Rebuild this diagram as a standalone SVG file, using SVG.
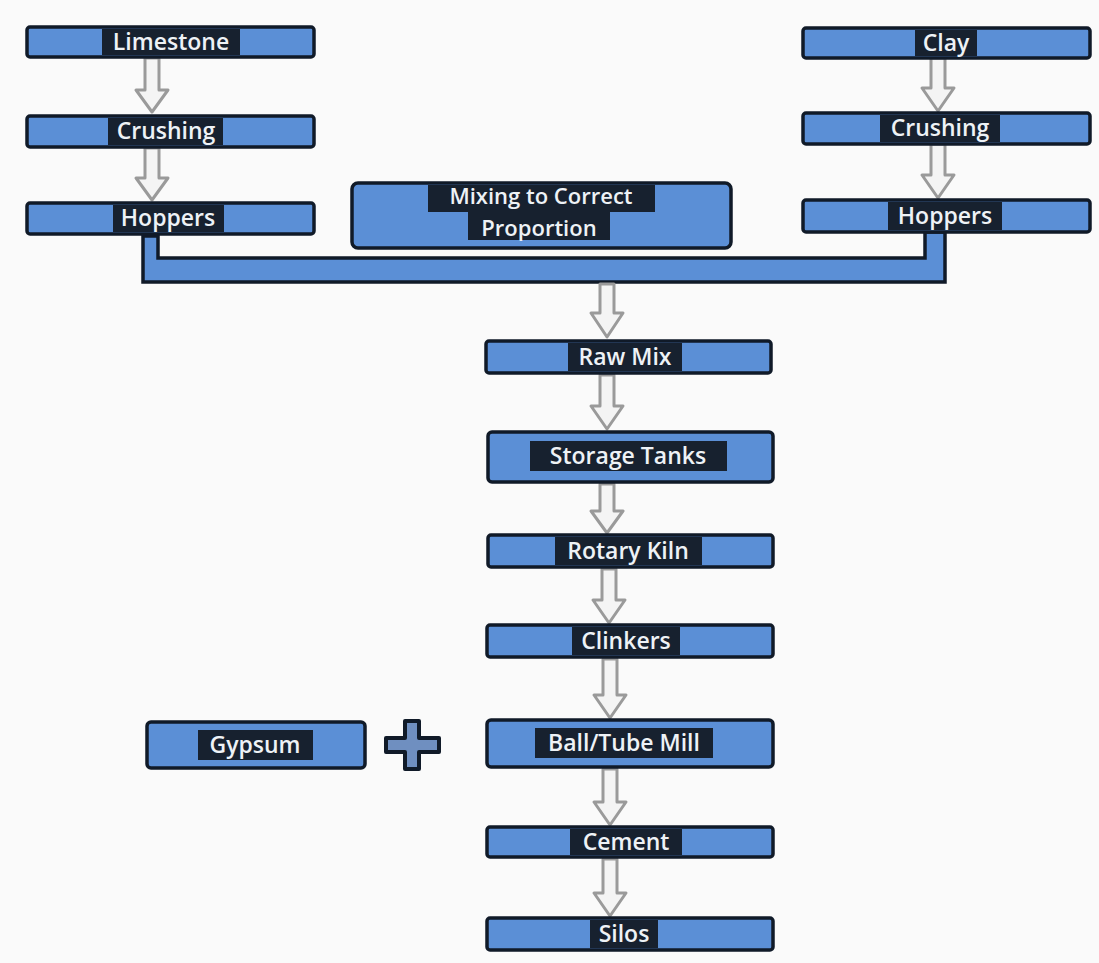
<svg xmlns="http://www.w3.org/2000/svg" width="1099" height="963" viewBox="0 0 1099 963">
<defs>
<style>
.box{fill:#5b8fd6;stroke:#101a28;stroke-width:3.5}
.hl{fill:#17212f}
.t{font-family:"Open Sans","DejaVu Sans",sans-serif;font-size:23px;font-weight:600;fill:#eef2f6;text-anchor:middle}
.t2{font-size:22px}
.arr{fill:#f4f4f4;stroke:#9a9a9a;stroke-width:3;stroke-linejoin:round}
</style>
</defs>
<rect width="1099" height="963" fill="#fafafa"/>

<g id="connectors">
<path class="arr" d="M145,58 V90 H136 L152,112 L168,90 H159 V58 Z"/>
<path class="arr" d="M145,148 V178 H136 L152,200 L168,178 H159 V148 Z"/>
<path class="arr" d="M931,58 V88 H922 L938,111 L954,88 H945 V58 Z"/>
<path class="arr" d="M931,144 V175 H922 L938,198 L954,175 H945 V144 Z"/>
<g id="collector">
<path d="M143,236 V282 H945 V232 H925 V258 H158 V236 Z" fill="#5b8fd6" stroke="#101a28" stroke-width="3.5"/>
</g>
<path class="arr" d="M600,284 V313 H591 L607,337 L623,313 H614 V284 Z"/>
<path class="arr" d="M600,375 V406 H591 L607,429 L623,406 H614 V375 Z"/>
<path class="arr" d="M600,484 V511 H591 L607,533 L623,511 H614 V484 Z"/>
<path class="arr" d="M602,569 V600 H593 L609,623 L625,600 H616 V569 Z"/>
<path class="arr" d="M603,659 V695 H594 L610,718 L626,695 H617 V659 Z"/>
<path class="arr" d="M603,769 V802 H594 L610,825 L626,802 H617 V769 Z"/>
<path class="arr" d="M603,859 V893 H594 L610,916 L626,893 H617 V859 Z"/>
</g>

<g id="limestone">
<rect class="box" x="27" y="27" width="287" height="30" rx="3"/>
<rect class="hl" x="102" y="29" width="138" height="26"/>
<text class="t" x="171" y="50">Limestone</text>
</g>
<g id="crushing-left">
<rect class="box" x="27" y="116" width="287" height="31" rx="3"/>
<rect class="hl" x="108" y="118" width="115" height="27"/>
<text class="t" x="166" y="139">Crushing</text>
</g>
<g id="hoppers-left">
<rect class="box" x="27" y="203" width="287" height="31" rx="3"/>
<rect class="hl" x="113" y="205" width="111" height="27"/>
<text class="t" x="168" y="226">Hoppers</text>
</g>
<g id="clay">
<rect class="box" x="803" y="28" width="287" height="30" rx="3"/>
<rect class="hl" x="915" y="30" width="62" height="26"/>
<text class="t" x="946" y="51">Clay</text>
</g>
<g id="crushing-right">
<rect class="box" x="803" y="113" width="287" height="31" rx="3"/>
<rect class="hl" x="880" y="115" width="120" height="27"/>
<text class="t" x="940" y="136">Crushing</text>
</g>
<g id="hoppers-right">
<rect class="box" x="803" y="200" width="287" height="32" rx="3"/>
<rect class="hl" x="888" y="202" width="114" height="28"/>
<text class="t" x="945" y="224">Hoppers</text>
</g>
<g id="mixing">
<rect class="box" x="352" y="183" width="379" height="65" rx="6"/>
<rect class="hl" x="428" y="185" width="227" height="27"/>
<rect class="hl" x="468" y="212" width="142" height="28"/>
<text class="t t2" x="541" y="204">Mixing to Correct</text>
<text class="t t2" x="539" y="236">Proportion</text>
</g>
<g id="raw-mix">
<rect class="box" x="486" y="341" width="285" height="32" rx="3"/>
<rect class="hl" x="568" y="343" width="114" height="28"/>
<text class="t" x="625" y="365">Raw Mix</text>
</g>
<g id="storage-tanks">
<rect class="box" x="488" y="432" width="285" height="50" rx="4"/>
<rect class="hl" x="530" y="441" width="197" height="30"/>
<text class="t" x="628" y="464">Storage Tanks</text>
</g>
<g id="rotary-kiln">
<rect class="box" x="488" y="535" width="285" height="32" rx="3"/>
<rect class="hl" x="555" y="537" width="147" height="28"/>
<text class="t" x="628" y="559">Rotary Kiln</text>
</g>
<g id="clinkers">
<rect class="box" x="487" y="625" width="286" height="32" rx="3"/>
<rect class="hl" x="572" y="627" width="108" height="28"/>
<text class="t" x="626" y="649">Clinkers</text>
</g>
<g id="ball-tube-mill">
<rect class="box" x="487" y="720" width="286" height="47" rx="4"/>
<rect class="hl" x="535" y="728" width="178" height="30"/>
<text class="t" x="624" y="751">Ball/Tube Mill</text>
</g>
<g id="gypsum">
<rect class="box" x="147" y="722" width="218" height="46" rx="4"/>
<rect class="hl" x="198" y="730" width="115" height="30"/>
<text class="t" x="255" y="753">Gypsum</text>
</g>
<g id="plus">
<path d="M405,721 H419 V738 H439 V752 H419 V769 H405 V752 H386 V738 H405 Z" fill="#6f8fc0" stroke="#101a28" stroke-width="4" stroke-linejoin="round"/>
</g>
<g id="cement">
<rect class="box" x="487" y="827" width="286" height="30" rx="3"/>
<rect class="hl" x="570" y="829" width="112" height="26"/>
<text class="t" x="626" y="850">Cement</text>
</g>
<g id="silos">
<rect class="box" x="487" y="918" width="286" height="32" rx="3"/>
<rect class="hl" x="590" y="920" width="68" height="28"/>
<text class="t" x="624" y="942">Silos</text>
</g>
</svg>
